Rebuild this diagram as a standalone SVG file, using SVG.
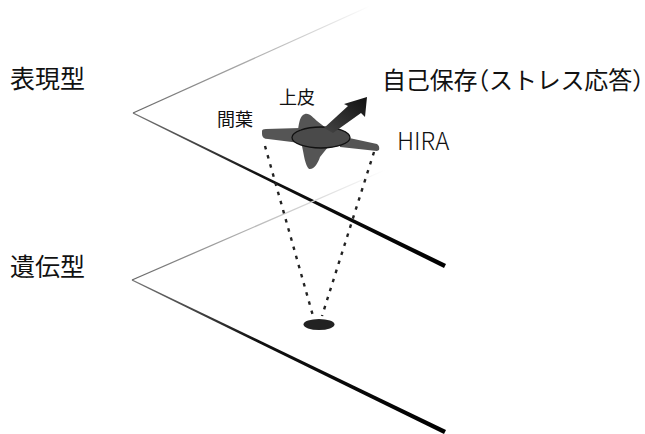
<svg xmlns="http://www.w3.org/2000/svg" width="645" height="434" viewBox="0 0 645 434">
  <style>
    text { font-family: "Noto Sans CJK JP", "Noto Sans", sans-serif; fill: #111; }
    .big { font-size: 25px; }
    .head { font-size: 24px; font-feature-settings: "halt"; }
    .small { font-size: 18px; }
    .latin { font-size: 24px; font-weight: 300; }
    .dots { fill: none; stroke: #222; stroke-width: 2.4; stroke-dasharray: 3.5 6; }
  </style>
  <defs>
    <!-- far edges of each plane fade out toward the top right -->
    <linearGradient id="fadeTop" gradientUnits="userSpaceOnUse" x1="133" y1="113" x2="370" y2="6">
      <stop offset="0" stop-color="#666"/>
      <stop offset="0.6" stop-color="#bbb"/>
      <stop offset="1" stop-color="#fff"/>
    </linearGradient>
    <linearGradient id="fadeTop2" gradientUnits="userSpaceOnUse" x1="132" y1="280" x2="385" y2="170">
      <stop offset="0" stop-color="#666"/>
      <stop offset="0.5" stop-color="#bbb"/>
      <stop offset="1" stop-color="#fff"/>
    </linearGradient>
    <!-- near edges darken toward the front -->
    <linearGradient id="frontEdge" gradientUnits="userSpaceOnUse" x1="133" y1="113" x2="445" y2="266">
      <stop offset="0" stop-color="#777"/>
      <stop offset="0.4" stop-color="#111"/>
      <stop offset="1" stop-color="#000"/>
    </linearGradient>
    <linearGradient id="frontEdge2" gradientUnits="userSpaceOnUse" x1="132" y1="280" x2="445" y2="432">
      <stop offset="0" stop-color="#777"/>
      <stop offset="0.4" stop-color="#111"/>
      <stop offset="1" stop-color="#000"/>
    </linearGradient>
    <linearGradient id="arrowFill" x1="0" y1="1" x2="1" y2="0">
      <stop offset="0" stop-color="#444"/>
      <stop offset="1" stop-color="#111"/>
    </linearGradient>
  </defs>

  <!-- phenotype plane -->
  <g id="plane-phenotype">
    <line x1="133" y1="113" x2="370" y2="6" stroke="url(#fadeTop)" stroke-width="1.3"/>
    <polygon points="133.3,112.4 446,264 444,268 132.7,113.6" fill="url(#frontEdge)"/>
  </g>

  <!-- genotype plane -->
  <g id="plane-genotype">
    <line x1="132" y1="280" x2="385" y2="170" stroke="url(#fadeTop2)" stroke-width="1.3"/>
    <polygon points="132.3,279.4 446,430 444,434 131.7,280.6" fill="url(#frontEdge2)"/>
  </g>

  <!-- projection from genotype spot to phenotype organism -->
  <g id="connectors">
    <line class="dots" x1="265" y1="146" x2="313" y2="316"/>
    <line class="dots" x1="374" y1="152" x2="322" y2="316"/>
  </g>

  <!-- organism with epithelium/mesenchyme body and response arrow -->
  <g id="organism">
    <g fill="#555">
      <path d="M262,131 Q262,129 266,129 L300,128 L300,143 L268,139 Q262,139 262,134 Z"/>
      <path d="M340,136 L377,144 Q380,146 379,150 L377,151 L340,147 Z"/>
      <path d="M298,130 C299,123 300,115 305,114 C310,113 313,118 317,121 L326,128 Z"/>
      <path d="M302,146 C304,155 305,165 309,169 C314,170 318,163 320,157 L328,147 Z"/>
    </g>
    <ellipse cx="321" cy="137.5" rx="29" ry="10.5" fill="#4a4a4a" stroke="#111" stroke-width="1.3"/>
    <path d="M324,128 L348,106 L344,104 L367,97 L365,117 L361,113 L333,133 Z" fill="url(#arrowFill)"/>
  </g>

  <!-- genotype spot -->
  <g id="genotype-spot">
    <ellipse cx="319" cy="324.5" rx="15.5" ry="5.5" fill="#222"/>
  </g>

  <g id="labels">
    <text class="big" x="10" y="88">表現型</text>
    <text class="big" x="10" y="276">遺伝型</text>
    <text class="head" x="382" y="89" textLength="262" lengthAdjust="spacing">自己保存（ストレス応答）</text>
    <text class="latin" x="397" y="150">HIRA</text>
    <text class="small" x="279" y="104">上皮</text>
    <text class="small" x="217" y="126">間葉</text>
  </g>
</svg>
